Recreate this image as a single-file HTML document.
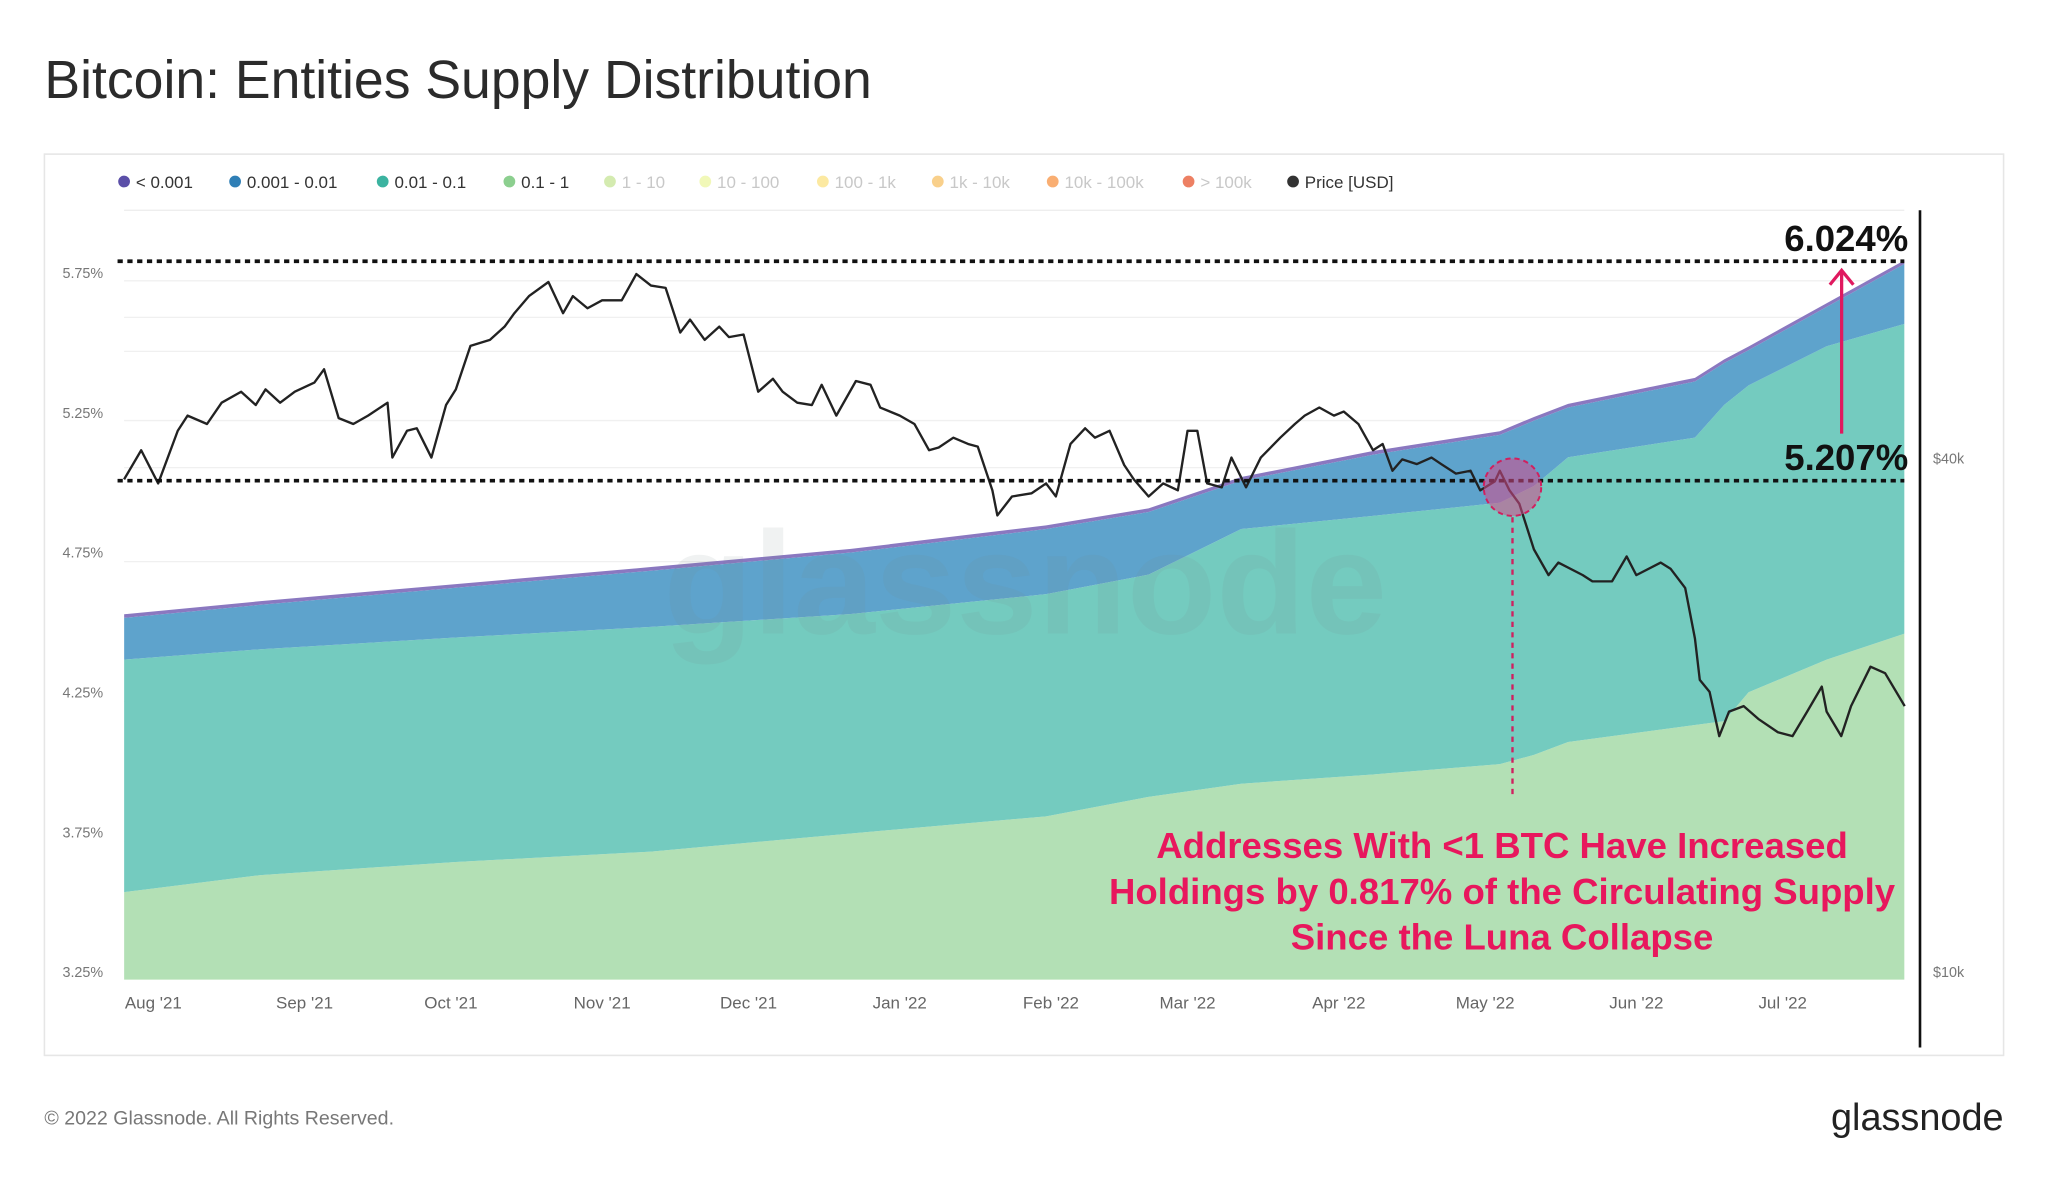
<!DOCTYPE html>
<html><head><meta charset="utf-8"><style>
html,body{margin:0;padding:0;background:#fff;}
svg{display:block;font-family:"Liberation Sans",sans-serif;}
</style></head><body>
<svg id="chart" width="2048" height="1180" viewBox="0 0 1568 903.4" preserveAspectRatio="none" xmlns="http://www.w3.org/2000/svg">
<rect x="0" y="0" width="1568" height="904" fill="#fff"/>
<text x="34" y="75" font-size="41" fill="#2b2b2b" font-weight="500">Bitcoin: Entities Supply Distribution</text>
<rect x="34" y="118" width="1500" height="690" fill="#fff" stroke="#e6e6e6" stroke-width="1.2"/>
<g id="legend"></g>
<g id="grid"></g>
<defs><clipPath id="plotclip"><rect x="95" y="150" width="1363" height="600"/></clipPath></defs>
<g id="areas" clip-path="url(#plotclip)"></g>
<text x="785" y="485" text-anchor="middle" font-size="112" fill="#7a868c" fill-opacity="0.11" font-weight="bold">glassnode</text>
<g id="yaxis"></g>
<g id="xaxis"></g>
<g id="price"></g>
<line x1="1470" y1="161" x2="1470" y2="802" stroke="#111" stroke-width="2"/>
<g id="annot"></g>
<text x="34" y="861" font-size="15" fill="#777">© 2022 Glassnode. All Rights Reserved.</text>
<text x="1534" y="865" text-anchor="end" font-size="29" fill="#222" font-weight="500">glassnode</text>
</svg>
<script>
const NS="http://www.w3.org/2000/svg";
// ---- data ----
const bandDays=[0,28,68,108,149,189,210,229,256,282,289,296,322,328,333,349,365];
const green01to1=[3.563,3.624,3.671,3.708,3.773,3.834,3.904,3.951,3.984,4.021,4.054,4.100,4.161,4.175,4.278,4.395,4.488];
const teal001to01=[0.832,0.808,0.803,0.804,0.785,0.795,0.795,0.911,0.925,0.935,0.962,1.019,1.028,1.131,1.098,1.121,1.108];
const blue0001to001=[0.149,0.159,0.178,0.201,0.220,0.233,0.224,0.173,0.219,0.243,0.234,0.178,0.201,0.150,0.126,0.141,0.215];
const purpleLt0001=[0.013,0.013,0.013,0.013,0.013,0.013,0.013,0.013,0.013,0.013,0.013,0.013,0.013,0.013,0.013,0.013,0.013];
const priceDays=[0,3.5,7,11,13,17,20,24,27,29,32,35,39,41,44,47,50,54,55,58,60,63,66,68,71,75,78,80,83,87,90,92,95,98,102,105,108,111,114,116,119,122,124,127,130,133,135,138,141,143,146,150,153,155,159,162,165,167,170,173,175,178,179,182,186,189,191,194,197,199,202,205,207,210,213,216,218,220,222,225,227,230,233,237,240,242,245,248,250,253,256,258,260,262,265,268,270,273,276,278,281,282,284,286,289,292,294,299,301,305,308,310,315,317,320,322,323,325,327,329,332,335,339,342,345,348,349,352,354,358,361,365];
const priceK=[37.8,40.9,37.4,43.1,44.9,43.9,46.5,47.9,46.2,48.2,46.5,47.9,49.1,50.9,44.6,43.9,44.9,46.5,40.1,43.1,43.4,40.1,46.2,48.2,54.2,55.1,57.1,59.2,62.0,64.4,59.2,62.0,60.0,61.3,61.3,65.8,63.8,63.4,56.2,58.2,55.1,57.1,55.5,55.9,47.9,49.6,47.9,46.5,46.2,48.8,44.9,49.3,48.8,45.9,44.9,43.9,40.9,41.2,42.3,41.6,41.3,36.7,34.3,36.1,36.4,37.4,36.1,41.6,43.4,42.3,43.1,39.3,37.8,36.1,37.4,36.7,43.1,43.1,37.4,37.0,40.1,37.0,40.1,42.3,43.9,44.9,45.9,44.9,45.4,43.9,40.9,41.6,38.7,39.9,39.4,40.1,39.4,38.4,38.7,36.7,37.6,38.7,36.7,35.4,31.3,29.2,30.2,29.2,28.7,28.7,30.7,29.2,30.2,29.7,28.2,24.6,22.0,21.3,18.9,20.2,20.5,19.8,19.1,18.9,20.2,21.6,20.2,18.9,20.5,22.8,22.4,20.5];
const yTickVals=[5.75,5.25,4.75,4.25,3.75,3.25];
const yTickLabels=["5.75%","5.25%","4.75%","4.25%","3.75%","3.25%"];
const priceTickVals=[40,10];
const priceTickLabels=["$40k","$10k"];
const monthDays=[6,37,67,98,128,159,190,218,249,279,310,340];
const monthLabels=["Aug '21","Sep '21","Oct '21","Nov '21","Dec '21","Jan '22","Feb '22","Mar '22","Apr '22","May '22","Jun '22","Jul '22"];
const legendLabels=["< 0.001","0.001 - 0.01","0.01 - 0.1","0.1 - 1","1 - 10","10 - 100","100 - 1k","1k - 10k","10k - 100k","> 100k","Price [USD]"];
const legendColors=["#5b4fa8","#2f7fb6","#3bb3a0","#8ccf8f","#c9e69c","#eef6a6","#fbe48a","#f8c46e","#f89a4f","#e8603c","#333"];
const legendActive=[1,1,1,1,0,0,0,0,0,0,1];
// ---- axes ----
const xOf=d=>95+d*3.735;
const yPct=p=>215+(5.75-p)*214;
const yPrice=k=>351-653*Math.log10(k/40);
function el(tag,attrs,parent,txt){const e=document.createElementNS(NS,tag);for(const k in attrs)e.setAttribute(k,attrs[k]);if(txt!=null)e.textContent=txt;parent.appendChild(e);return e;}
// legend
const lg=document.getElementById('legend');
const lgX=[95,180,293,390,467,540,630,718,806,910,990];
legendLabels.forEach((l,i)=>{
  const g=el('g',{},lg);
  
  
  el('circle',{cx:lgX[i],cy:139,r:4.5,fill:legendColors[i],'fill-opacity':legendActive[i]?1:0.8},g);
  el('text',{x:lgX[i]+9,y:144,'font-size':13,fill:legendActive[i]?'#333':'#c8c8c8'},g,l);
});
// grid
const gr=document.getElementById('grid');
el('line',{x1:95,x2:1458,y1:161,y2:161,stroke:'#eee'},gr);
[215,243,269,322,358,430,537,644].forEach(y=>el('line',{x1:95,x2:1458,y1:y,y2:y,stroke:'#f0f0f0'},gr));
// areas
const ar=document.getElementById('areas');
const series=[green01to1,teal001to01,blue0001to001,purpleLt0001];
const colors=['#b3e0b5','#74cbbf','#5ea3cc','#8a78c0'];
const names=['area-0.1-1','area-0.01-0.1','area-0.001-0.01','area-lt-0.001'];
let lower=bandDays.map(()=>0);
series.forEach((s,si)=>{
  const upper=lower.map((v,i)=>v+s[i]);
  let d='';
  bandDays.forEach((dd,i)=>{d+=(i?'L':'M')+xOf(dd)+','+yPct(upper[i]);});
  for(let i=bandDays.length-1;i>=0;i--){d+='L'+xOf(bandDays[i])+','+(si===0?760:yPct(lower[i]));}
  const p=el('path',{d:d+'Z',fill:colors[si]},ar);
  
  
  lower=upper;
});
// y axis
const ya=document.getElementById('yaxis');
yTickVals.forEach((v,i)=>{const t=el('text',{x:79,y:yPct(v)-2,'font-size':11,fill:'#777','text-anchor':'end'},ya,yTickLabels[i]);
  });
priceTickVals.forEach((v,i)=>{const t=el('text',{x:1480,y:yPrice(v)+4,'font-size':11,fill:'#777'},ya,priceTickLabels[i]);
  });
// x axis
const xa=document.getElementById('xaxis');
monthDays.forEach((d,i)=>{const t=el('text',{x:xOf(d),y:772,'font-size':13,fill:'#666','text-anchor':'middle'},xa,monthLabels[i]);
  });
// price
const pg=document.getElementById('price');
let pd='';priceDays.forEach((d,i)=>{pd+=(i?'L':'M')+xOf(d).toFixed(1)+','+yPrice(priceK[i]).toFixed(1);});
const pl=el('path',{d:pd,fill:'none',stroke:'#222','stroke-width':1.8,'stroke-linejoin':'round'},pg);

// annotations
const an=document.getElementById('annot');
[200,368].forEach(y=>{const l=el('line',{x1:90,x2:1458,y1:y,y2:y,stroke:'#111','stroke-width':2.8,'stroke-dasharray':'4 3.5'},an);
  });
let t=el('text',{x:1461,y:192,'font-size':28,'font-weight':'bold',fill:'#111','text-anchor':'end'},an,'6.024%');

t=el('text',{x:1461,y:360,'font-size':28,'font-weight':'bold',fill:'#111','text-anchor':'end'},an,'5.207%');

const arrow=el('g',{},an);

el('line',{x1:1410,y1:332,x2:1410,y2:208,stroke:'#e0195f','stroke-width':2.5},arrow);
el('path',{d:'M1401,218 L1410,207 L1419,218',fill:'none',stroke:'#e0195f','stroke-width':2.5},arrow);
const circ=el('circle',{cx:1158,cy:373,r:22,fill:'#d64a8a','fill-opacity':0.55,stroke:'#d0205f','stroke-width':1.5,'stroke-dasharray':'4 3'},an);

const vl=el('line',{x1:1158,y1:396,x2:1158,y2:612,stroke:'#d0205f','stroke-width':1.8,'stroke-dasharray':'4 4'},an);

const lines=['Addresses With <1 BTC Have Increased','Holdings by 0.817% of the Circulating Supply','Since the Luna Collapse'];
const ag=el('g',{},an);

lines.forEach((s,i)=>el('text',{x:1150,y:657+i*35,'font-size':28,'font-weight':'bold',fill:'#e8175d','text-anchor':'middle'},ag,s));
</script>
</body></html>
